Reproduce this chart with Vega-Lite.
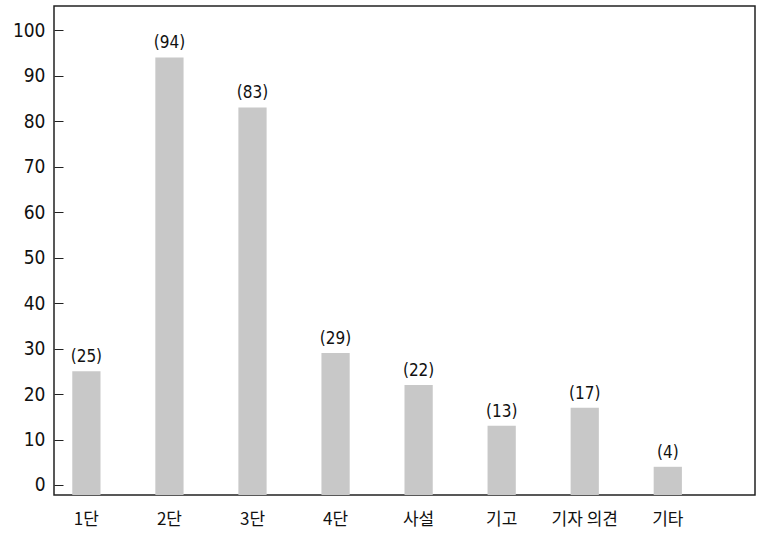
{
  "$schema": "https://vega.github.io/schema/vega-lite/v6.json",
  "autosize": "none",
  "padding": {"left": 54, "top": 6, "right": 7, "bottom": 41},
  "width": 701,
  "height": 489,
  "background": "white",
  "config": {
    "view": {"stroke": "#222", "strokeWidth": 1.5},
    "font": "DejaVu Sans Condensed"
  },
  "data": {
    "values": [
      {"category": "1단", "value": 25, "label": "(25)"},
      {"category": "2단", "value": 94, "label": "(94)"},
      {"category": "3단", "value": 83, "label": "(83)"},
      {"category": "4단", "value": 29, "label": "(29)"},
      {"category": "사설", "value": 22, "label": "(22)"},
      {"category": "기고", "value": 13, "label": "(13)"},
      {"category": "기자 의견", "value": 17, "label": "(17)"},
      {"category": "기타", "value": 4, "label": "(4)"}
    ]
  },
  "encoding": {
    "x": {
      "field": "category",
      "type": "nominal",
      "sort": null,
      "scale": {"paddingInner": 0.66, "paddingOuter": 0.55, "align": 0.2},
      "axis": {
        "title": null,
        "labelAngle": 0,
        "ticks": false,
        "domain": false,
        "labelFont": "Noto Sans CJK KR",
        "labelFontSize": 17,
        "labelColor": "#111",
        "labelPadding": 16
      }
    }
  },
  "layer": [
    {
      "mark": {"type": "bar", "color": "#c8c8c8"},
      "encoding": {
        "y": {
          "field": "value",
          "type": "quantitative",
          "scale": {"domain": [-2.2, 105.3], "nice": false, "zero": false},
          "axis": {
            "title": null,
            "values": [0, 10, 20, 30, 40, 50, 60, 70, 80, 90, 100],
            "grid": false,
            "domain": false,
            "tickSize": -9,
            "tickColor": "#222",
            "labelFont": "DejaVu Sans Condensed",
            "labelFontSize": 19,
            "labelColor": "#111",
            "labelPadding": 18
          }
        },
        "y2": {"datum": -2.2}
      }
    },
    {
      "mark": {"type": "text", "baseline": "bottom", "dy": -5, "fontSize": 17, "color": "#111", "font": "DejaVu Sans Condensed"},
      "encoding": {
        "y": {"field": "value", "type": "quantitative"},
        "text": {"field": "label"}
      }
    }
  ]
}
